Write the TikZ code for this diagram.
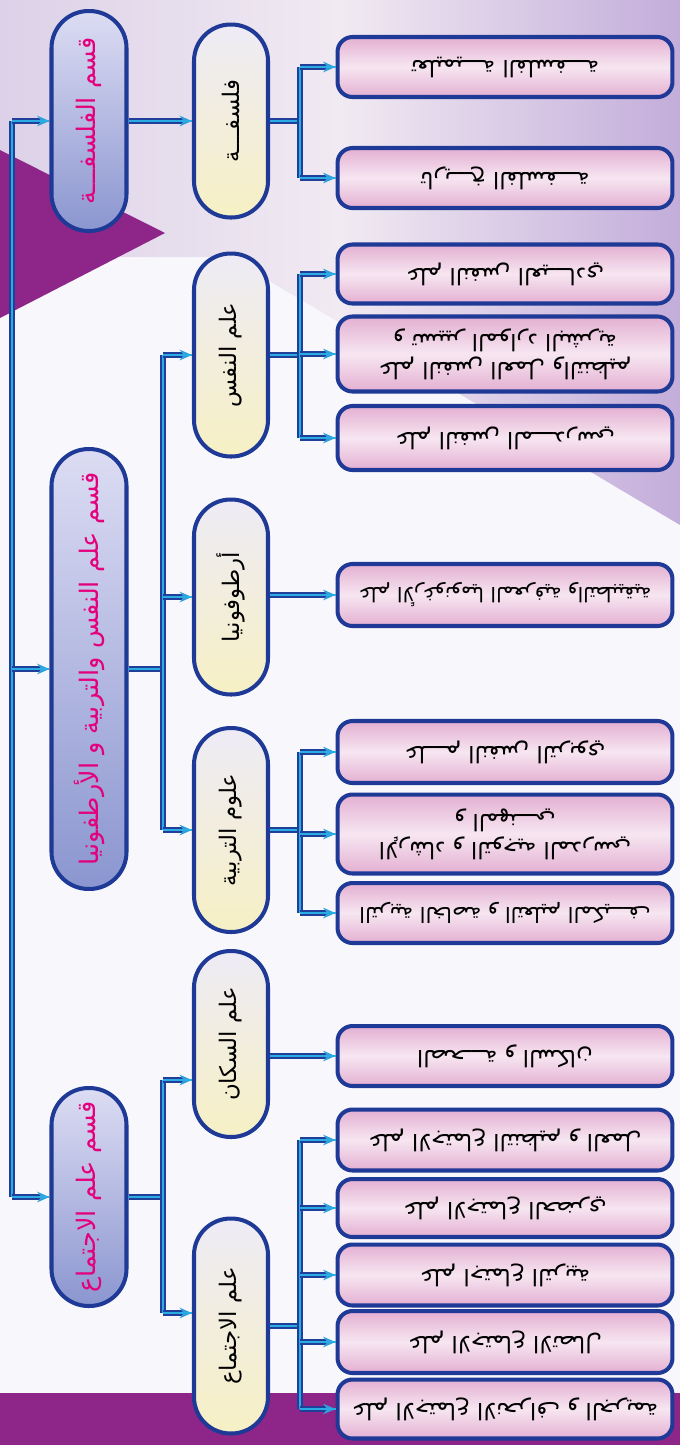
\documentclass[tikz,border=0pt]{standalone}
\usepackage{fontspec}
\newfontfamily\arabicfont[Script=Arabic]{DejaVu Sans}
\TeXXeTstate=1
\usetikzlibrary{arrows.meta}
\usetikzlibrary{calc}
\definecolor{linkdark}{HTML}{1F3F9A}
\definecolor{linkcyan}{HTML}{2AABE2}
\definecolor{tipcyan}{HTML}{2F9FDC}
\definecolor{boxblue}{HTML}{1E3A96}
\definecolor{deptlight}{HTML}{DCDCF3}
\definecolor{deptdark}{HTML}{8B96D0}
\definecolor{deptpink}{HTML}{E4007C}
\definecolor{midlav}{HTML}{EEEBF6}
\definecolor{midcream}{HTML}{F6F0C4}
\definecolor{leafpink}{HTML}{E3AFD2}
\definecolor{leaflight}{HTML}{F7E6F1}
\definecolor{lavleft}{HTML}{DCD1E8}
\definecolor{lavmid}{HTML}{F1EAF2}
\definecolor{lavright}{HTML}{C3ADDA}
\definecolor{bgwhite}{HTML}{F8F8FC}
\definecolor{plum}{HTML}{8E2689}
\newcommand{\artext}[1]{\beginR #1\endR}

\begin{document}
\begin{tikzpicture}[x=0.02cm, y=-0.02cm, line join=round,
    link/.style={draw=linkdark, line width=3pt, postaction={draw=linkcyan, line width=0.7pt, arrows=-}},
    tip/.style={-{Stealth[length=7pt,width=6pt,color=tipcyan]}},
    boxline/.style={draw=boxblue, line width=2.3pt},
    dept/.style={rotate=90, boxline, rounded corners=0.74cm,
      minimum height=1.5cm, top color=deptlight, bottom color=deptdark, text=deptpink,
      inner sep=0pt, font=\arabicfont\fontsize{14.5}{16}\selectfont},
    mid/.style={rotate=90, boxline, rounded corners=0.73cm,
      minimum height=1.48cm, top color=midlav, bottom color=midcream, text=black,
      inner sep=0pt, font=\arabicfont\fontsize{13}{15}\selectfont},
    leaf/.style={rotate=180, boxline, rounded corners=0.3cm,
      minimum width=6.7cm, top color=leafpink, bottom color=leafpink, middle color=leaflight,
      text=black, align=center, inner sep=2pt, font=\arabicfont\fontsize{13}{16}\selectfont}]
  \useasboundingbox (0,0) rectangle (680,1445);
  % background
  \fill[bgwhite] (0,0) rectangle (680,1445);
  \shade[left color=lavleft, right color=lavright, middle color=lavmid]
    (0,0) -- (680,0) -- (680,525) -- (229,257) -- (0,257) -- cycle;
  \fill[plum] (0,150) -- (165,233) -- (0,318) -- cycle;
  \fill[plum] (0,1393) rectangle (680,1445);

  % departments
  \node[dept, minimum width=4.4cm] (dphil) at (89,121) {\artext{قسم الفلسفـــة}};
  \node[dept, minimum width=8.8cm] (dpsy) at (89,669) {\artext{قسم علم النفس والتربية و الأرطفونيا}};
  \node[dept, minimum width=4.36cm] (dsoc) at (89,1197) {\artext{قسم علم الاجتماع}};

  % disciplines
  \node[mid, minimum width=3.86cm] (mphil) at (231,121) {\artext{فلسفـــة}};
  \node[mid, minimum width=4.06cm] (mpsy) at (231,355) {\artext{علم النفس}};
  \node[mid, minimum width=3.9cm] (mortho) at (231,597) {\artext{أرطوفونيا}};
  \node[mid, minimum width=4.08cm] (medu) at (231,830) {\artext{علوم التربية}};
  \node[mid, minimum width=3.72cm] (mpop) at (231,1044) {\artext{علم السكان}};
  \node[mid, minimum width=4.3cm] (msoc) at (231,1326) {\artext{علم الاجتماع}};

  % specialities
  \node[leaf, minimum height=1.2cm] (la) at (505,67) {\artext{تعليميـــة الفلسفـــة}};
  \node[leaf, minimum height=1.2cm] (lb) at (505,178) {\artext{تاريـــخ الفلسفـــة}};
  \node[leaf, minimum height=1.18cm] (lc) at (505,274) {\artext{علم النفس العيـــادي}};
  \node[leaf, minimum height=1.5cm] (ld) at (505,354) {\artext{علم النفس العمل والتنظيم}\\\artext{و تسيير الموارد البشرية}};
  \node[leaf, minimum height=1.28cm] (le) at (505,438) {\artext{علم النفس المـــدرسي}};
  \node[leaf, minimum height=1.24cm, font=\arabicfont\fontsize{11.5}{14}\selectfont] (lf) at (505,595) {\artext{علم الأرغونوميا المعرفية والتطبيقية}};
  \node[leaf, minimum height=1.24cm] (lg) at (505,752) {\artext{علـــم النفس التربوي}};
  \node[leaf, minimum height=1.58cm] (lh) at (505,834) {\artext{الإرشاد و التوجيه المدرسي}\\\artext{و المهنـــي}};
  \node[leaf, minimum height=1.2cm, font=\arabicfont\fontsize{12}{14}\selectfont] (li) at (505,913) {\artext{التربية الخاصة و التعليم المكيـــف}};
  \node[leaf, minimum height=1.2cm] (lj) at (505,1056) {\artext{الصحـــة و السكان}};
  \node[leaf, minimum height=1.22cm] (lk) at (505,1140) {\artext{علم الاجتماع التنظيم و العمل}};
  \node[leaf, minimum height=1.16cm] (ll) at (505,1208) {\artext{علم الاجتماع الحضري}};
  \node[leaf, minimum height=1.22cm] (lm) at (505,1275) {\artext{علم اجتماع التربية}};
  \node[leaf, minimum height=1.24cm] (ln) at (505,1342) {\artext{علم الاجتماع الاتصال}};
  \node[leaf, minimum height=1.18cm] (lo) at (505,1409) {\artext{علم الاجتماع الانحراف و الجريمة}};

  % connectors
  \coordinate (trunk) at (12,0);
  \coordinate (fork) at (163,0);
  \coordinate (comb) at (300,0);
  \coordinate (popin) at ($(mpop.north)+(0,36)$);
  \coordinate (socin) at ($(msoc.north)+(0,-13)$);

  \draw[link] (trunk |- dphil.north) -- (trunk |- dsoc.north);
  \foreach \d in {dphil,dpsy,dsoc}
    \draw[link,tip] (trunk |- \d.north) -- (\d.north);

  \draw[link,tip] (dphil.south) -- (mphil.north);
  \draw[link] (dpsy.south) -- (fork |- dpsy.south);
  \draw[link] (fork |- mpsy.north) -- (fork |- medu.north);
  \foreach \m in {mpsy,mortho,medu}
    \draw[link,tip] (fork |- \m.north) -- (\m.north);
  \draw[link] (dsoc.south) -- (fork |- dsoc.south);
  \draw[link] (fork |- popin) -- (fork |- socin);
  \foreach \m in {popin,socin}
    \draw[link,tip] (fork |- \m) -- (\m);

  \draw[link] (mphil.south) -- (comb |- mphil.south);
  \draw[link] (comb |- la.east) -- (comb |- lb.east);
  \draw[link] (mpsy.south) -- (comb |- mpsy.south);
  \draw[link] (comb |- lc.east) -- (comb |- le.east);
  \draw[link] (medu.south) -- (comb |- medu.south);
  \draw[link] (comb |- lg.east) -- (comb |- li.east);
  \draw[link] (msoc.south) -- (comb |- msoc.south);
  \draw[link] (comb |- lk.east) -- (comb |- lo.east);
  \foreach \l in {la,lb,lc,ld,le,lg,lh,li,lk,ll,lm,ln,lo}
    \draw[link,tip] (comb |- \l.east) -- (\l.east);
  \draw[link,tip] (mortho.south |- lf.east) -- (lf.east);
  \draw[link,tip] (mpop.south |- lj.east) -- (lj.east);
\end{tikzpicture}
\end{document}
